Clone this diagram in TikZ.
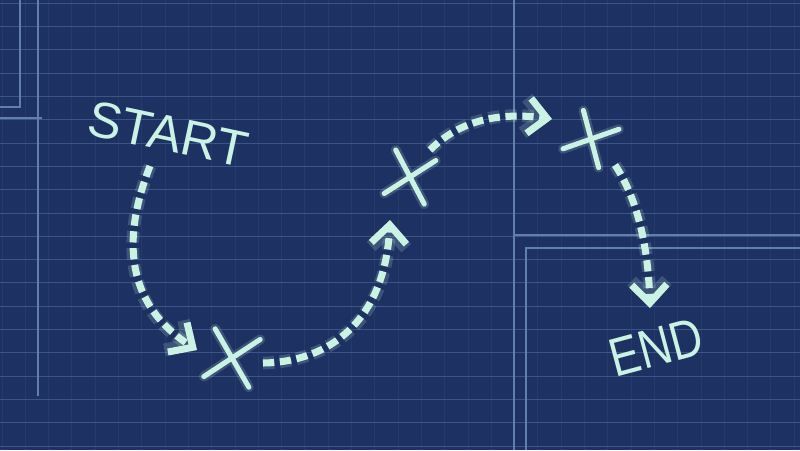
\documentclass[tikz,border=0pt]{standalone}
\usepackage{fontspec}
\setmainfont{Liberation Sans}
\usetikzlibrary{arrows.meta,calc,shapes.misc}
\definecolor{PaperBlue}{RGB}{30,49,99}
\definecolor{GridFaint}{RGB}{38,58,108}
\definecolor{GridRule}{RGB}{60,84,135}
\definecolor{GridMajor}{RGB}{98,126,172}
\definecolor{ChalkMint}{RGB}{202,243,228}
\tikzset{
  gridfaint/.style={draw=GridFaint,line width=0.6pt},
  gridrule/.style={draw=GridRule,line width=0.7pt},
  gridmajor/.style={draw=GridMajor,line width=1pt},
  route/.style={-{Straight Barb[length=13pt,width=25pt]},draw=ChalkMint,line width=5pt,
    dash pattern=on 8pt off 4pt,
    preaction={draw=ChalkMint,draw opacity=0.18,line width=9pt,dash pattern=on 8pt off 4pt}},
  xmark/.style={cross out,draw=ChalkMint,line width=3.6pt,line cap=round,inner sep=0pt,
    preaction={draw=ChalkMint,draw opacity=0.18,line width=7pt}},
  chalktext/.style={text=ChalkMint,inner sep=0pt,font=\fontsize{36}{36}\selectfont}
}
\begin{document}
\begin{tikzpicture}[x=0.025cm,y=-0.025cm]
  \fill[PaperBlue] (0,0) rectangle (800,450);
  \useasboundingbox (0,0) rectangle (800,450);

  % blueprint grid
  \foreach \k in {0,...,34}
    \draw[gridfaint] ({2+23.3*\k},0) -- ({2+23.3*\k},450);
  \foreach \k in {0,...,19}
    \draw[gridrule] (0,{3.3+23.3*\k}) -- (800,{3.3+23.3*\k});
  \draw[gridmajor] (20,0) -- (20,107) -- (0,107);
  \draw[gridmajor] (0,118) -- (42,118);
  \draw[gridmajor] (38,0) -- (38,396);
  \draw[gridmajor] (514,0) -- (514,450);
  \draw[gridmajor] (514,235) -- (800,235);
  \draw[gridmajor] (526,450) -- (526,248) -- (800,248);

  % labels and stops
  \node[chalktext,rotate=-12] (start) at (168,134) {START};
  \node[chalktext,rotate=15,xscale=0.82,font=\fontsize{38.6}{38.6}\selectfont] (finish) at (656,347) {END};
  \node[xmark,rotate=-13.3,minimum width=1.03cm,minimum height=1.1cm] (x1) at (232,358) {};
  \node[xmark,rotate=-14.8,minimum width=0.91cm,minimum height=1cm] (x2) at (410,177) {};
  \node[xmark,rotate=-27.9,minimum width=0.88cm,minimum height=0.96cm] (x3) at (591,139) {};

  % dashed route
  \draw[route] ($(start)+(-18,32)$) .. controls +(-25,64) and +(-77,-50) .. ($(x1)+(-35,-8)$);
  \draw[route] ($(x1)+(31,5)$) .. controls +(67,-1) and +(-5,100) .. ($(x2)+(-20,43)$);
  \draw[route] ($(x2)+(20,-27)$) .. controls +(30,-30) and +(-52,-7) .. ($(x3)+(-39,-20)$);
  \draw[route] ($(x3)+(24,26)$) .. controls +(20,30) and +(-2,-68) .. ($(finish)+(-6,-39)$);
\end{tikzpicture}
\end{document}
